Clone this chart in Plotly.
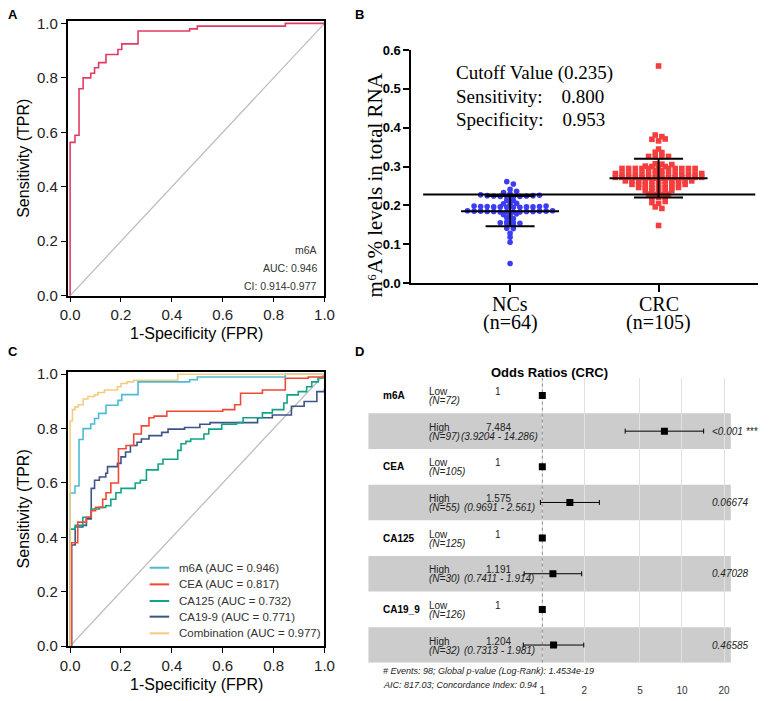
import numpy as np
import plotly.graph_objects as go

W, H = 776, 701
SANS = "Liberation Sans, Arial, sans-serif"
SERIF = "Liberation Serif, Times New Roman, serif"

# ---------------- data ----------------
# ROC step vertices (FPR, TPR)
m6a_fpr = [0, 0, 0.019, 0.035, 0.051, 0.081, 0.096, 0.112, 0.141, 0.188, 0.203, 0.267, 0.47, 0.5, 0.846, 1.0]
m6a_tpr = [0, 0.563, 0.589, 0.76, 0.80, 0.817, 0.837, 0.856, 0.886, 0.904, 0.925, 0.972, 0.98, 0.99, 1.0, 1.0]

cea_fpr = [0, 0.005, 0.03, 0.064, 0.083, 0.1, 0.128, 0.141, 0.16, 0.19, 0.22, 0.25, 0.28, 0.31, 0.33, 0.38,
           0.6, 0.647, 0.67, 0.756, 0.846, 0.936, 1.0]
cea_tpr = [0, 0.38, 0.456, 0.474, 0.498, 0.51, 0.54, 0.564, 0.6, 0.726, 0.738, 0.78, 0.81, 0.84, 0.846, 0.864,
           0.87, 0.888, 0.93, 0.942, 0.985, 0.99, 1.0]

ca125_fpr = [0, 0, 0.02, 0.05, 0.083, 0.115, 0.14, 0.16, 0.18, 0.2, 0.256, 0.276, 0.30, 0.346, 0.365, 0.423,
             0.436, 0.455, 0.474, 0.526, 0.545, 0.596, 0.654, 0.68, 0.756, 0.795, 0.84, 0.853, 0.897, 0.93,
             0.95, 0.975, 1.0]
ca125_tpr = [0, 0.43, 0.444, 0.474, 0.504, 0.51, 0.516, 0.54, 0.564, 0.58, 0.6, 0.61, 0.648, 0.67, 0.687, 0.72,
             0.744, 0.753, 0.762, 0.78, 0.798, 0.816, 0.822, 0.84, 0.858, 0.87, 0.894, 0.924, 0.936, 0.954,
             0.972, 0.986, 0.995]

ca199_fpr = [0, 0.006, 0.02, 0.05, 0.064, 0.083, 0.096, 0.115, 0.14, 0.147, 0.186, 0.2, 0.218, 0.237, 0.263,
             0.28, 0.31, 0.36, 0.385, 0.45, 0.51, 0.55, 0.737, 0.795, 0.87, 0.92, 0.97, 1.0]
ca199_tpr = [0, 0.372, 0.438, 0.444, 0.468, 0.58, 0.61, 0.622, 0.636, 0.66, 0.672, 0.696, 0.714, 0.738, 0.75,
             0.762, 0.774, 0.786, 0.798, 0.804, 0.816, 0.822, 0.84, 0.85, 0.882, 0.9, 0.936, 0.948]

comb_fpr = [0, 0, 0.009, 0.019, 0.032, 0.051, 0.07, 0.096, 0.109, 0.135, 0.186, 0.2, 0.224, 0.25, 0.423, 1.0]
comb_tpr = [0, 0.828, 0.87, 0.88, 0.888, 0.909, 0.918, 0.924, 0.933, 0.942, 0.954, 0.966, 0.972, 0.978, 1.0, 1.0]

roc_names = ["m6A", "CEA", "CA125", "CA19-9", "Combination"]
roc_auc = [0.946, 0.817, 0.732, 0.771, 0.977]
roc_colors = ["#4DBBD5", "#EE4A37", "#12A386", "#3C5488", "#F6CB80"]

panelA_text = ["m6A", "AUC: 0.946", "CI: 0.914-0.977"]

# Panel B: m6A levels
group_names = ["NCs", "CRC"]
group_n = [64, 105]
nc_values = [0.261, 0.255, 0.241, 0.236, 0.233, 0.230,
             0.227, 0.226, 0.225, 0.225, 0.224, 0.224, 0.223, 0.223, 0.222, 0.222,
             0.213, 0.212, 0.205, 0.204, 0.203,
             0.198, 0.198, 0.197, 0.197, 0.197, 0.196, 0.196, 0.196, 0.196, 0.195, 0.195, 0.195,
             0.186, 0.186, 0.185, 0.185, 0.185, 0.185, 0.184, 0.184, 0.184, 0.184, 0.183, 0.183, 0.183, 0.183,
             0.178, 0.176, 0.174, 0.168, 0.166,
             0.157, 0.156, 0.155, 0.154, 0.153, 0.149, 0.141, 0.140, 0.128, 0.118, 0.105, 0.050]
crc_values = [0.559, 0.381, 0.377, 0.371, 0.370, 0.366, 0.345, 0.337, 0.336,
              0.326, 0.326, 0.325, 0.325, 0.307, 0.306, 0.305, 0.301, 0.300, 0.300, 0.299,
              0.295, 0.295, 0.295, 0.295, 0.295, 0.295, 0.295, 0.295, 0.295, 0.295,
              0.290, 0.289,
              0.282, 0.282, 0.281, 0.281, 0.281, 0.281, 0.281, 0.281, 0.281, 0.281, 0.281, 0.281, 0.280, 0.280,
              0.272, 0.272, 0.272, 0.272, 0.272, 0.272, 0.272, 0.271, 0.271, 0.271, 0.271, 0.271, 0.270, 0.270,
              0.263, 0.263, 0.263, 0.263, 0.263, 0.262, 0.262, 0.262, 0.262, 0.262, 0.261,
              0.254, 0.254, 0.254, 0.254, 0.254, 0.253, 0.253, 0.253, 0.253,
              0.246, 0.246, 0.246, 0.246, 0.245, 0.245, 0.245,
              0.238, 0.238, 0.237, 0.237, 0.237,
              0.229, 0.229, 0.228, 0.228, 0.222, 0.221, 0.221,
              0.210, 0.207, 0.205, 0.196, 0.192, 0.148]
group_mean = [0.185, 0.270]
group_sd = [0.039, 0.050]
cutoff_level = 0.228
cutoff_text = ["Cutoff Value (0.235)", "Sensitivity:\u00a0\u00a0\u00a0\u00a00.800",
               "Specificity:\u00a0\u00a0\u00a0\u00a00.953"]

# Panel D: odds ratios
or_var = ["m6A", "", "CEA", "", "CA125", "", "CA19_9", ""]
or_level = ["Low", "High", "Low", "High", "Low", "High", "Low", "High"]
or_n = [72, 97, 105, 55, 125, 30, 126, 32]
or_est = [1, 7.484, 1, 1.575, 1, 1.191, 1, 1.204]
or_lo = [None, 3.9204, None, 0.9691, None, 0.7411, None, 0.7313]
or_hi = [None, 14.286, None, 2.561, None, 1.914, None, 1.981]
or_p = ["", "<0.001 ***", "", "0.06674", "", "0.47028", "", "0.46585"]
or_ticks = [1, 2, 5, 10, 20]
or_footnote = ["# Events: 98; Global p-value (Log-Rank): 1.4534e-19",
               "AIC: 817.03; Concordance Index: 0.94"]

# ---------------- layout helpers ----------------
def px(x):
    return x / W

def py(y):
    return 1 - y / H

# B axis geometry
B_XDOM = (413, 768)
B_YDOM = (44, 282)
B_XRANGE = ((413 - 514) / 152, (768 - 514) / 152)
B_YRANGE = (0, 0.6)
b_xpx = (B_XDOM[1] - B_XDOM[0]) / (B_XRANGE[1] - B_XRANGE[0])
b_ypx = (B_YDOM[1] - B_YDOM[0]) / (B_YRANGE[1] - B_YRANGE[0])


def row_swarm(values, spacing, thr):
    """GraphPad-like scatter: points within `thr` px vertically share a row, centred."""
    vals = np.asarray(values, dtype=float)
    order = np.argsort(vals, kind="stable")
    rows, cur, start = [], [], None
    for i in order:
        y = vals[i] * b_ypx
        if cur and y - start > thr:
            rows.append(cur)
            cur = []
        if not cur:
            start = y
        cur.append(i)
    if cur:
        rows.append(cur)
    off = np.zeros(len(vals))
    for row in rows:
        n = len(row)
        pos = [(j - (n - 1) / 2) for j in range(n)]
        left = sorted([p for p in pos if p < 0], key=abs)
        right = sorted([p for p in pos if p >= 0], key=abs)
        alt = []
        while left or right:
            if right:
                alt.append(right.pop(0))
            if left:
                alt.append(left.pop(0))
        for i, p in zip(row, alt):
            off[i] = p * spacing / b_xpx
    return off


fig = go.Figure()

# ---------------- Panel A ----------------
fig.add_trace(go.Scatter(x=[0, 1], y=[0, 1], mode="lines", line=dict(color="#BEBEBE", width=1.3),
                         xaxis="x", yaxis="y", showlegend=False, hoverinfo="skip"))
fig.add_trace(go.Scatter(x=m6a_fpr, y=m6a_tpr, mode="lines", line=dict(color="#E23B63", width=1.6, shape="hv"),
                         xaxis="x", yaxis="y", showlegend=False))

# ---------------- Panel C ----------------
fig.add_trace(go.Scatter(x=[0, 1], y=[0, 1], mode="lines", line=dict(color="#BEBEBE", width=1.3),
                         xaxis="x3", yaxis="y3", showlegend=False, hoverinfo="skip"))
roc_sets = [(m6a_fpr, m6a_tpr), (cea_fpr, cea_tpr), (ca125_fpr, ca125_tpr), (ca199_fpr, ca199_tpr),
            (comb_fpr, comb_tpr)]
for k in [3, 2, 1, 0, 4]:
    fx, ty = roc_sets[k]
    fig.add_trace(go.Scatter(x=fx, y=ty, mode="lines", line=dict(color=roc_colors[k], width=1.6, shape="hv"),
                             xaxis="x3", yaxis="y3", showlegend=False, name=roc_names[k]))

# ---------------- Panel B ----------------
nc_off = row_swarm(nc_values, 6.7, 2.5)
crc_off = row_swarm(crc_values, 6.8, 2.5)
fig.add_trace(go.Scatter(x=0 + nc_off, y=nc_values, mode="markers",
                         marker=dict(symbol="circle", size=5.6, color="#3C3CF6", line=dict(width=0)),
                         xaxis="x2", yaxis="y2", showlegend=False, cliponaxis=False))
fig.add_trace(go.Scatter(x=1 + crc_off, y=crc_values, mode="markers",
                         marker=dict(symbol="square", size=5.6, color="#F43D3D", line=dict(width=0)),
                         xaxis="x2", yaxis="y2", showlegend=False, cliponaxis=False))
fig.add_trace(go.Scatter(x=[(425 - 514) / 152, (765 - 514) / 152], y=[cutoff_level, cutoff_level], mode="lines",
                         line=dict(color="black", width=2), xaxis="x2", yaxis="y2", showlegend=False))
lx, ly = [], []
for i, (m, s) in enumerate(zip(group_mean, group_sd)):
    lx += [i - 0.33, i + 0.33, None, i - 0.165, i + 0.165, None, i - 0.165, i + 0.165, None, i, i, None]
    ly += [m, m, None, m + s, m + s, None, m - s, m - s, None, m - s, m + s, None]
fig.add_trace(go.Scatter(x=lx, y=ly, mode="lines", line=dict(color="black", width=2),
                         xaxis="x2", yaxis="y2", showlegend=False))

# ---------------- Panel D ----------------
D_XDOM = (455, 745)
D_XRANGE = ((455 - 547) / 143, (745 - 547) / 143)
D_YDOM = (378.8, 670.2)
rows = list(range(len(or_est)))
fig.add_trace(go.Scatter(x=[1, 1], y=[-0.5, 7.5], mode="lines", line=dict(color="#8C8C8C", width=1, dash="dot"),
                         xaxis="x4", yaxis="y4", showlegend=False, hoverinfo="skip"))
low_r = [r for r in rows if or_lo[r] is None]
high_r = [r for r in rows if or_lo[r] is not None]
fig.add_trace(go.Scatter(x=[or_est[r] for r in low_r], y=low_r, mode="markers",
                         marker=dict(symbol="square", size=7, color="black"),
                         xaxis="x4", yaxis="y4", showlegend=False))
fig.add_trace(go.Scatter(x=[or_est[r] for r in high_r], y=high_r, mode="markers",
                         marker=dict(symbol="square", size=7, color="black"),
                         error_x=dict(type="data", symmetric=False,
                                      array=[or_hi[r] - or_est[r] for r in high_r],
                                      arrayminus=[or_est[r] - or_lo[r] for r in high_r],
                                      color="black", thickness=1, width=2.5),
                         xaxis="x4", yaxis="y4", showlegend=False))

shapes = []
for r in high_r:
    shapes.append(dict(type="rect", xref="paper", yref="y4", x0=px(369), x1=px(740), y0=r - 0.5, y1=r + 0.5,
                       fillcolor="#CCCCCC", line=dict(width=0), layer="below"))

# manual legend for C
leg_y = [573, 590, 607, 623, 640]
annotations = []
for k in range(5):
    shapes.append(dict(type="line", xref="paper", yref="paper", x0=px(145), x1=px(165), y0=py(leg_y[k]),
                       y1=py(leg_y[k]), line=dict(color=roc_colors[k], width=2)))
    annotations.append(dict(text=f"{roc_names[k]} (AUC = {roc_auc[k]:.3f})", xref="paper", yref="paper",
                            x=px(173), y=py(leg_y[k]), xanchor="left", yanchor="middle", showarrow=False,
                            font=dict(family=SANS, size=11.5, color="#333333")))


def ann(text, x, y, size, family=SANS, color="black", xanchor="center", angle=0, bold=False, italic=False,
        yref="paper", yshift=0):
    if bold:
        text = f"<b>{text}</b>"
    if italic:
        text = f"<i>{text}</i>"
    annotations.append(dict(text=text, xref="paper", yref=yref, x=px(x), y=(py(y) if yref == "paper" else y),
                            xanchor=xanchor, yanchor="middle", showarrow=False, textangle=angle, yshift=yshift,
                            font=dict(family=family, size=size, color=color)))


# panel letters
ann("A", 5, 8, 13, bold=True)
ann("B", 360, 8, 13, bold=True)
ann("C", 5, 352, 13, bold=True)
ann("D", 360, 352, 13, bold=True)

# A / C axis titles
for top, bot in [(14, 295), (372.5, 653)]:
    ann("Sensitivity (TPR)", 16, (top + bot) / 2, 16, angle=-90)
    ann("1-Specificity (FPR)", 193, bot + 39, 16)

# A text
for j, t in enumerate(panelA_text):
    ann(t, 318, 248 + j * 18.5, 10.5, color="#333333", xanchor="right")

# B texts
ann("m\u2076A% levels in total RNA", 376, 182, 21, family=SERIF, angle=-90)
for j, t in enumerate(cutoff_text):
    ann(t, 457, 67 + j * 24, 19, family=SERIF, xanchor="left")
for i, (g, n) in enumerate(zip(group_names, group_n)):
    cx = 514 + i * 152
    ann(g, cx, 303, 20, family=SERIF)
    ann(f"(n={n})", cx, 322, 20, family=SERIF)

# D texts
ann("Odds Ratios (CRC)", 554, 373, 13, bold=True)
for r in rows:
    if or_var[r]:
        ann(or_var[r], 382, r, 10, bold=True, xanchor="left", yref="y4")
    ann(or_level[r], 429, r, 10, xanchor="left", yref="y4", yshift=4, color="#222222")
    ann(f"(N={or_n[r]})", 429, r, 10, xanchor="left", yref="y4", yshift=-5, italic=True, color="#222222")
    ann(f"{or_est[r]}", 502, r, 10, yref="y4", yshift=4, color="#222222")
    if or_lo[r] is not None:
        ann(f"({or_lo[r]} - {or_hi[r]})", 503, r, 10, yref="y4", yshift=-5, italic=True, color="#222222")
    if or_p[r]:
        ann(or_p[r], 719, r, 10, xanchor="left", yref="y4", italic=True, color="#222222")
for j, t in enumerate(or_footnote):
    ann(t, 382, 679 + j * 14, 9, xanchor="left", italic=True, color="#222222")

roc_axis = dict(range=[-0.01, 1.0], tickvals=[0, 0.2, 0.4, 0.6, 0.8, 1.0], tickformat=".1f",
                showline=True, mirror=True, linecolor="black", linewidth=1.6, ticks="outside", ticklen=5,
                tickwidth=1.4, tickcolor="black", showgrid=False, zeroline=False,
                tickfont=dict(family=SANS, size=15, color="#222222"))
roc_yaxis = dict(roc_axis, range=[0, 1.01])

fig.update_layout(
    width=W, height=H, margin=dict(l=0, r=0, t=0, b=0),
    paper_bgcolor="white", plot_bgcolor="white", showlegend=False,
    xaxis=dict(roc_axis, domain=[px(61), px(324)], anchor="y"),
    yaxis=dict(roc_yaxis, domain=[py(295), py(14)], anchor="x"),
    xaxis3=dict(roc_axis, domain=[px(61), px(324)], anchor="y3"),
    yaxis3=dict(roc_yaxis, domain=[py(653), py(372.5)], anchor="x3"),
    xaxis2=dict(domain=[px(B_XDOM[0]), px(B_XDOM[1])], range=list(B_XRANGE), anchor="y2",
                tickvals=[0, 1], showticklabels=False, showline=True, linecolor="black", linewidth=2,
                ticks="outside", ticklen=7, tickwidth=2, tickcolor="black", showgrid=False, zeroline=False),
    yaxis2=dict(domain=[py(B_YDOM[1]), py(B_YDOM[0])], range=list(B_YRANGE), anchor="x2",
                tickvals=[0, 0.1, 0.2, 0.3, 0.4, 0.5, 0.6], tickformat=".1f", showline=True, linecolor="black",
                linewidth=2, ticks="outside", ticklen=6, tickwidth=2, tickcolor="black", showgrid=False,
                zeroline=False, tickfont=dict(family=SANS, size=13, color="black", weight="bold")),
    xaxis4=dict(type="log", domain=[px(D_XDOM[0]), px(D_XDOM[1])], range=list(D_XRANGE), anchor="y4",
                tickvals=or_ticks, ticktext=[str(t) for t in or_ticks], showgrid=True, gridcolor="#E2E2E2",
                gridwidth=1, showline=False, zeroline=False, ticks="", ticklabelstandoff=20,
                tickfont=dict(family=SANS, size=10, color="#333333")),
    yaxis4=dict(domain=[py(D_YDOM[1]), py(D_YDOM[0])], range=[7.5, -0.5], anchor="x4", showgrid=False,
                showticklabels=False, zeroline=False, showline=False, ticks=""),
    shapes=shapes, annotations=annotations,
)

fig.write_html("out.html", config={"displayModeBar": False},
               post_script="document.body.style.margin='0px';")
